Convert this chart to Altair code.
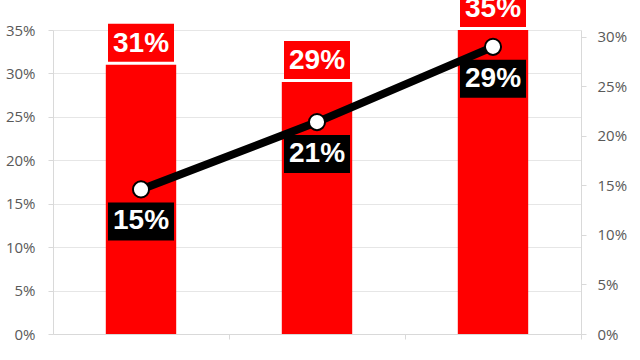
import altair as alt
import pandas as pd

years = ["2000", "2005", "2010"]
bar_values = [0.31, 0.29, 0.35]
line_values = [0.146, 0.214, 0.29]

df = pd.DataFrame({"year": years, "bar": bar_values, "line": line_values})

RED = "#ff0000"
GRAY = "#595959"
LIGHT = "#d9d9d9"

x_enc = alt.X(
    "year:N",
    sort=years,
    title=None,
    scale=alt.Scale(paddingInner=0.6, paddingOuter=0.3),
    axis=alt.Axis(
        labelAngle=0, labelFontSize=20, labelFont="Liberation Sans", labelFontWeight="bold",
        labelColor=GRAY, labelPadding=18, tickOffset=88, labelOffset=-88, tickColor=LIGHT,
        domainColor=LIGHT, tickSize=5, grid=False,
    ),
)

left_axis = alt.Axis(
    format=".0%", values=[0, 0.05, 0.1, 0.15, 0.2, 0.25, 0.3, 0.35], title=None,
    labelFontSize=15, labelFont="Open Sans", labelColor=GRAY, labelPadding=13,
    tickColor=LIGHT, tickSize=5, domainColor=LIGHT, gridColor="#e6e6e6", orient="left",
)
left_scale = alt.Scale(domain=[0, 0.35], nice=False, zero=True)

right_axis = alt.Axis(
    format=".0%", values=[0, 0.05, 0.1, 0.15, 0.2, 0.25, 0.3], title=None,
    labelFontSize=15, labelFont="Open Sans", labelColor=GRAY, labelPadding=11,
    tickColor=LIGHT, tickSize=5, domainColor=LIGHT, grid=False, orient="right",
)
right_scale = alt.Scale(domain=[0, 0.307], nice=False, zero=True)

base = alt.Chart(df)

bars = base.mark_bar(color=RED).encode(
    x=x_enc, y=alt.Y("bar:Q", scale=left_scale, axis=left_axis)
)
bar_box = base.mark_bar(color=RED, width=66, yOffset=-3, y2Offset=-41).encode(
    x=x_enc, y=alt.Y("bar:Q", scale=left_scale, axis=left_axis), y2="bar:Q"
)
bar_text = base.mark_text(
    color="white", font="Liberation Sans", fontWeight="bold", fontSize=28,
    baseline="middle", dy=-21,
).encode(
    x=x_enc, y=alt.Y("bar:Q", scale=left_scale, axis=left_axis),
    text=alt.Text("bar:Q", format=".0%"),
)

left_group = alt.layer(bars, bar_box, bar_text)

line = base.mark_line(color="black", strokeWidth=8).encode(
    x=x_enc, y=alt.Y("line:Q", scale=right_scale, axis=right_axis)
)
pts = base.mark_point(
    filled=True, fill="white", stroke="black", strokeWidth=2, size=260, opacity=1
).encode(x=x_enc, y=alt.Y("line:Q", scale=right_scale, axis=right_axis))
line_box = base.mark_bar(color="black", width=66, yOffset=13, y2Offset=51).encode(
    x=x_enc, y=alt.Y("line:Q", scale=right_scale, axis=right_axis), y2="line:Q"
)
line_text = base.mark_text(
    color="white", font="Liberation Sans", fontWeight="bold", fontSize=28,
    baseline="middle", dy=32,
).encode(
    x=x_enc, y=alt.Y("line:Q", scale=right_scale, axis=right_axis),
    text=alt.Text("line:Q", format=".0%"),
)

right_group = alt.layer(line, line_box, line_text, pts)

chart = (
    alt.layer(left_group, right_group)
    .resolve_scale(y="independent")
    .properties(
        width=528, height=304,
        autosize=alt.AutoSizeParams(type="none"),
        padding={"left": 53, "top": 30, "right": 59, "bottom": 26},
        background="white",
    )
    .configure_view(stroke=None)
)

chart.save("out.html", embed_options={"renderer": "svg", "actions": False})
